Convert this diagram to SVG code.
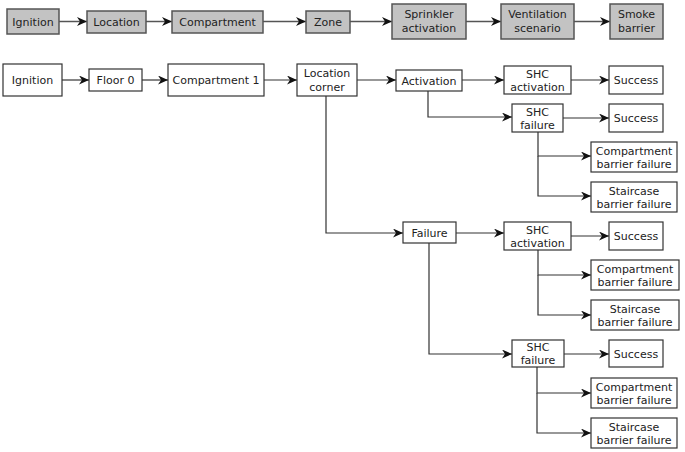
<svg xmlns="http://www.w3.org/2000/svg" width="685" height="452" viewBox="0 0 685 452">
<defs>
<marker id="ah" markerUnits="userSpaceOnUse" markerWidth="11" markerHeight="9" refX="10" refY="4.5" orient="auto">
<path d="M0,0 L10,4.5 L0,9 L3,4.5 z" fill="#111"/>
</marker>
<marker id="ahg" markerUnits="userSpaceOnUse" markerWidth="11" markerHeight="9" refX="10" refY="4.5" orient="auto">
<path d="M0,0 L10,4.5 L0,9 L3,4.5 z" fill="#111"/>
</marker>
<style>
.g rect{fill:#c3c3c3;stroke:#555;stroke-width:1.5}
.w rect{fill:#fff;stroke:#333;stroke-width:1.2}
text{font-family:"DejaVu Sans",sans-serif;font-size:11px;fill:#222;text-anchor:middle}
.c path{fill:none;stroke:#333;stroke-width:1.2;marker-end:url(#ah)}
.c path.p{marker-end:none}
.cg path{fill:none;stroke:#555;stroke-width:1.5;marker-end:url(#ahg)}
</style>
</defs>
<rect width="685" height="452" fill="#fff"/>

<g class="cg">
<path d="M59,21.5 H87"/>
<path d="M146,21.5 H172"/>
<path d="M263,21.5 H306"/>
<path d="M350,21.5 H392"/>
<path d="M466,21.5 H501"/>
<path d="M574,21.5 H610"/>
</g>

<g class="c">
<path d="M62,80 H89"/>
<path d="M142,80 H168"/>
<path d="M264,80 H297"/>
<path d="M357,80 H396"/>
<path d="M462,80 H504"/>
<path d="M571,80 H609"/>
<path d="M428,91 V117 H512"/>
<path d="M563,118 H609"/>
<path d="M538,132 V156 H591"/>
<path d="M538,156 V196 H591"/>
<path d="M326,96 V233 H403"/>
<path d="M456,233 H504"/>
<path d="M571,236 H609"/>
<path d="M538,250 V275 H591"/>
<path d="M538,275 V315 H591"/>
<path d="M429,243 V354 H512"/>
<path d="M564,354 H609"/>
<path d="M537,367 V393 H591"/>
<path d="M537,393 V433 H591"/>
</g>

<g id="t-ignition" class="g"><rect x="7" y="9" width="52" height="25"/><text x="33" y="25.5">Ignition</text></g>
<g id="t-location" class="g"><rect x="87" y="11" width="59" height="22"/><text x="116.5" y="25.5">Location</text></g>
<g id="t-compartment" class="g"><rect x="172" y="11" width="91" height="22"/><text x="217.5" y="25.5">Compartment</text></g>
<g id="t-zone" class="g"><rect x="306" y="11" width="44" height="22"/><text x="328" y="25.5">Zone</text></g>
<g id="t-sprinkler" class="g"><rect x="392" y="4" width="74" height="35"/><text x="429" y="18">Sprinkler</text><text x="429" y="32">activation</text></g>
<g id="t-ventilation" class="g"><rect x="501" y="4" width="73" height="35"/><text x="537.5" y="18">Ventilation</text><text x="537.5" y="32">scenario</text></g>
<g id="t-smoke" class="g"><rect x="610" y="4" width="53" height="35"/><text x="636.5" y="18">Smoke</text><text x="636.5" y="32">barrier</text></g>

<g id="ignition" class="w"><rect x="3" y="64" width="59" height="32"/><text x="32.5" y="84">Ignition</text></g>
<g id="floor0" class="w"><rect x="89" y="69" width="53" height="22"/><text x="115.5" y="84">Floor 0</text></g>
<g id="comp1" class="w"><rect x="168" y="64" width="96" height="32"/><text x="216" y="84">Compartment 1</text></g>
<g id="loccorner" class="w"><rect x="297" y="64" width="60" height="32"/><text x="327" y="77">Location</text><text x="327" y="91">corner</text></g>
<g id="activation" class="w"><rect x="396" y="70" width="66" height="21"/><text x="429" y="84.5">Activation</text></g>
<g id="shcact1" class="w"><rect x="504" y="66" width="67" height="28"/><text x="537.5" y="77.5">SHC</text><text x="537.5" y="90.5">activation</text></g>
<g id="succ1" class="w"><rect x="609" y="66" width="54" height="28"/><text x="636" y="84">Success</text></g>
<g id="shcfail1" class="w"><rect x="512" y="104" width="51" height="28"/><text x="537.5" y="115.5">SHC</text><text x="537.5" y="128.5">failure</text></g>
<g id="succ2" class="w"><rect x="609" y="104" width="54" height="28"/><text x="636" y="122">Success</text></g>
<g id="cbf1" class="w"><rect x="591" y="142" width="86" height="30"/><text x="634" y="154.5">Compartment</text><text x="634" y="168">barrier failure</text></g>
<g id="sbf1" class="w"><rect x="591" y="182" width="86" height="30"/><text x="634" y="194.5">Staircase</text><text x="634" y="208">barrier failure</text></g>

<g id="failure" class="w"><rect x="403" y="222" width="53" height="21"/><text x="429.5" y="236.5">Failure</text></g>
<g id="shcact2" class="w"><rect x="504" y="222" width="67" height="28"/><text x="537.5" y="233.5">SHC</text><text x="537.5" y="246.5">activation</text></g>
<g id="succ3" class="w"><rect x="609" y="222" width="54" height="28"/><text x="636" y="240">Success</text></g>
<g id="cbf2" class="w"><rect x="591" y="260" width="88" height="30"/><text x="635" y="272.5">Compartment</text><text x="635" y="286">barrier failure</text></g>
<g id="sbf2" class="w"><rect x="591" y="300" width="88" height="30"/><text x="635" y="312.5">Staircase</text><text x="635" y="326">barrier failure</text></g>
<g id="shcfail2" class="w"><rect x="512" y="340" width="52" height="27"/><text x="538" y="351">SHC</text><text x="538" y="364">failure</text></g>
<g id="succ4" class="w"><rect x="609" y="340" width="54" height="27"/><text x="636" y="357.5">Success</text></g>
<g id="cbf3" class="w"><rect x="591" y="378" width="86" height="30"/><text x="634" y="390.5">Compartment</text><text x="634" y="404">barrier failure</text></g>
<g id="sbf3" class="w"><rect x="591" y="418" width="86" height="30"/><text x="634" y="430.5">Staircase</text><text x="634" y="444">barrier failure</text></g>
</svg>
